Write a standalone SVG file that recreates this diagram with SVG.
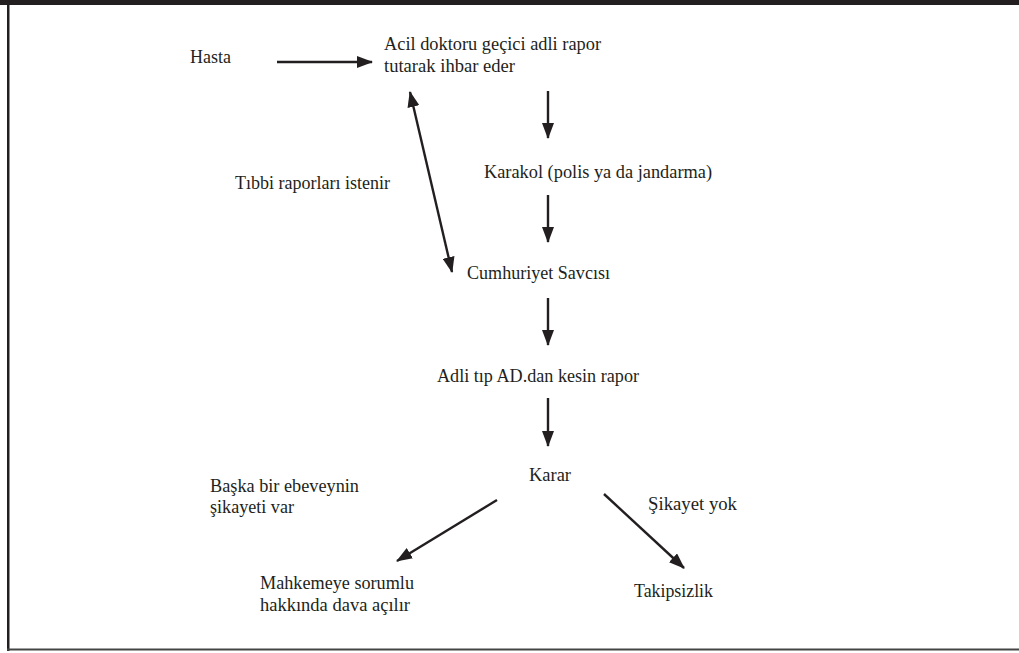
<svg xmlns="http://www.w3.org/2000/svg" width="1019" height="653" viewBox="0 0 1019 653">
<defs>
<marker id="ah" markerUnits="userSpaceOnUse" markerWidth="16" markerHeight="12" refX="15" refY="6" orient="auto">
<path d="M0,0 L16,6 L0,12 z" fill="#231f20"/>
</marker>
<marker id="ahs" markerUnits="userSpaceOnUse" markerWidth="16" markerHeight="12" refX="1" refY="6" orient="auto">
<path d="M16,0 L0,6 L16,12 z" fill="#231f20"/>
</marker>
<style>
.t{font-size:18px;fill:#231f20}
.c{stroke:#231f20;stroke-width:2.4;fill:none;marker-end:url(#ah)}
</style>
</defs>
<rect x="0" y="0" width="1019" height="653" fill="#ffffff"/>
<g id="frame">
<rect x="0" y="0" width="1019" height="5" fill="#231f20"/>
<rect x="7" y="0" width="2.5" height="651" fill="#231f20"/>
<rect x="7" y="648.5" width="1012" height="2" fill="#444"/>
</g>
<g id="connectors">
<line class="c" x1="277" y1="62" x2="372" y2="62"/>
<line class="c" x1="410" y1="92" x2="452" y2="272" marker-start="url(#ahs)"/>
<line class="c" x1="548" y1="91" x2="548" y2="138"/>
<line class="c" x1="548" y1="195" x2="548" y2="242"/>
<line class="c" x1="548" y1="298" x2="548" y2="345"/>
<line class="c" x1="548" y1="398" x2="548" y2="446"/>
<line class="c" x1="497" y1="500" x2="397" y2="561"/>
<line class="c" x1="604" y1="494" x2="684" y2="568"/>
</g>
<g class="t" font-family="Liberation Serif, Times New Roman, DejaVu Serif, serif">
<g id="n-hasta"><text x="190" y="63" textLength="41" lengthAdjust="spacingAndGlyphs">Hasta</text></g>
<g id="n-acil"><text x="384" y="50" textLength="217" lengthAdjust="spacingAndGlyphs">Acil doktoru geçici adli rapor</text><text x="384" y="72" textLength="131" lengthAdjust="spacingAndGlyphs">tutarak ihbar eder</text></g>
<g id="n-karakol"><text x="484" y="178" textLength="228" lengthAdjust="spacingAndGlyphs">Karakol (polis ya da jandarma)</text></g>
<g id="l-tibbi"><text x="235" y="189" textLength="155" lengthAdjust="spacingAndGlyphs">Tıbbi raporları istenir</text></g>
<g id="n-savci"><text x="467" y="279" textLength="143" lengthAdjust="spacingAndGlyphs">Cumhuriyet Savcısı</text></g>
<g id="n-adli"><text x="437" y="382" textLength="202" lengthAdjust="spacingAndGlyphs">Adli tıp AD.dan kesin rapor</text></g>
<g id="n-karar"><text x="529" y="481" textLength="42" lengthAdjust="spacingAndGlyphs">Karar</text></g>
<g id="l-baska"><text x="210" y="492" textLength="149" lengthAdjust="spacingAndGlyphs">Başka bir ebeveynin</text><text x="210" y="513" textLength="84" lengthAdjust="spacingAndGlyphs">şikayeti var</text></g>
<g id="l-sikayet"><text x="648" y="510" textLength="89" lengthAdjust="spacingAndGlyphs">Şikayet yok</text></g>
<g id="n-mahkeme"><text x="260" y="589" textLength="154" lengthAdjust="spacingAndGlyphs">Mahkemeye sorumlu</text><text x="260" y="611" textLength="150" lengthAdjust="spacingAndGlyphs">hakkında dava açılır</text></g>
<g id="n-takip"><text x="634" y="597" textLength="79" lengthAdjust="spacingAndGlyphs">Takipsizlik</text></g>
</g>
</svg>
